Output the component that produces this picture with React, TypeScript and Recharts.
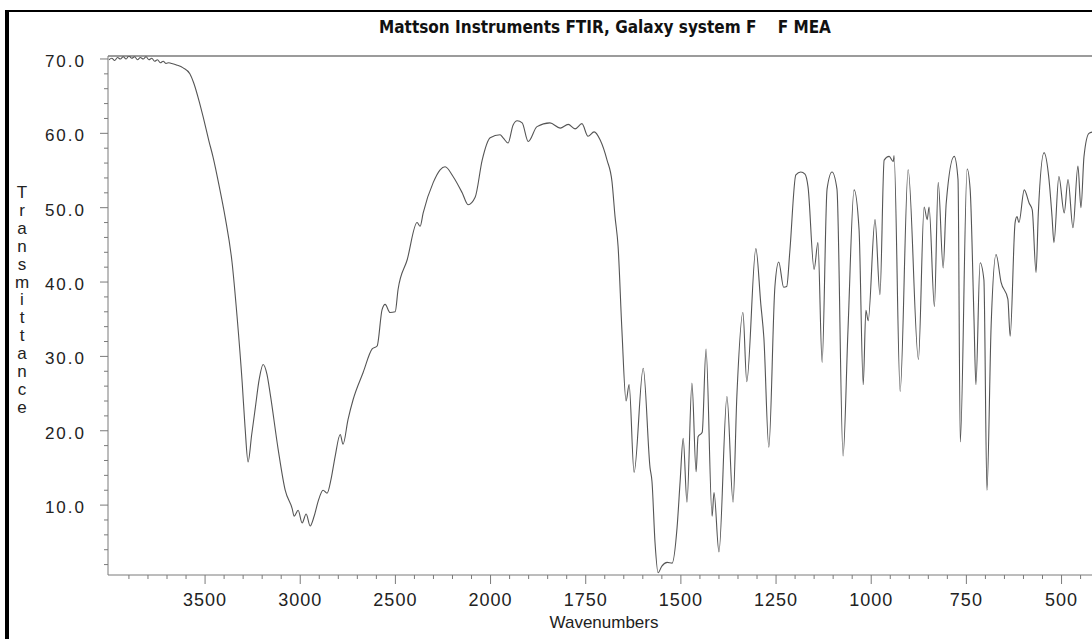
import React from 'react';
import { LineChart, Line, XAxis, YAxis, ReferenceLine } from 'recharts';

// spectrum: wavenumber (cm-1) and % transmittance
const wavenumbers = [
  4005, 3990, 3975, 3960, 3945, 3930, 3915, 3900, 3885, 3870, 3855, 3840, 3825, 3810, 3795, 3780,
  3765, 3750, 3735, 3720, 3705, 3690, 3675, 3650, 3615, 3580, 3560, 3530, 3510, 3480, 3458, 3425,
  3395, 3358, 3332, 3305, 3290, 3274, 3255, 3237, 3215, 3195, 3175, 3158, 3116, 3079, 3042, 3032,
  3011, 2990, 2969, 2948, 2927, 2906, 2880, 2859, 2838, 2817, 2790, 2775, 2749, 2722, 2670, 2622,
  2596, 2570, 2554, 2528, 2501, 2486, 2438, 2386, 2370, 2354, 2301, 2265, 2239, 2197, 2149, 2118,
  2081, 2044, 2002, 1975, 1967, 1954, 1941, 1930, 1917, 1901, 1878, 1844, 1817, 1796, 1778, 1760,
  1744, 1728, 1712, 1694, 1681, 1673, 1665, 1655, 1644, 1636, 1623, 1599, 1581, 1576, 1568, 1560,
  1550, 1536, 1523, 1510, 1502, 1494, 1484, 1471, 1460, 1455, 1444, 1434, 1418, 1413, 1400, 1379,
  1363, 1353, 1337, 1327, 1303, 1290, 1282, 1269, 1253, 1243, 1230, 1222, 1214, 1198, 1185, 1174,
  1166, 1150, 1140, 1129, 1116, 1103, 1090, 1074, 1061, 1045, 1032, 1021, 1014, 1008, 990, 977,
  966, 953, 942, 940, 924, 903, 876, 861, 853, 848, 834, 824, 811, 803, 782, 772,
  766, 748, 740, 730, 725, 714, 704, 696, 685, 672, 659, 641, 635, 622, 617, 612,
  598, 585, 577, 567, 561, 546, 533, 525, 520, 507, 493, 483, 470, 457, 449, 441,
  428, 417,
];
const transmittance = [
  69.9, 70.1, 69.8, 70.2, 70.0, 70.3, 70.0, 70.4, 70.1, 70.3, 69.9, 70.2, 70.0, 70.3, 69.9, 70.1,
  69.7, 69.9, 69.5, 69.7, 69.4, 69.5, 69.4, 69.2, 68.8, 68.0, 66.8, 64.2, 62.2, 59.0, 56.8, 52.8,
  48.8, 42.6, 35.4, 26.5, 20.5, 15.8, 19.5, 22.9, 27.0, 28.9, 27.6, 25.0, 17.5, 12.0, 9.5, 8.5,
  9.3, 7.6, 8.8, 7.2, 8.5, 10.5, 12.0, 11.6, 13.5, 16.5, 19.5, 18.2, 21.5, 24.2, 27.8, 31.0,
  31.4, 36.3, 37.0, 35.9, 36.0, 39.0, 43.0, 48.0, 47.5, 49.3, 53.4, 55.1, 55.5, 54.2, 52.0, 50.4,
  51.4, 56.4, 59.4, 59.8, 59.4, 58.7, 61.1, 61.7, 61.4, 58.9, 60.9, 61.4, 60.7, 61.2, 60.6, 61.3,
  59.6, 60.2, 59.1, 56.4, 53.5, 48.8, 44.8, 33.6, 24.0, 26.2, 14.4, 28.4, 15.0, 13.2, 5.0, 0.9,
  1.8, 2.3, 2.2, 7.0, 13.2, 19.0, 10.4, 26.4, 14.5, 19.2, 19.8, 31.0, 8.5, 11.7, 3.7, 24.6,
  10.4, 24.6, 35.9, 26.6, 44.5, 37.0, 32.5, 17.8, 39.4, 42.7, 39.3, 39.4, 44.0, 54.4, 54.8, 54.5,
  52.8, 41.7, 45.3, 29.2, 52.5, 54.8, 52.5, 16.6, 33.6, 52.4, 47.1, 26.2, 36.2, 34.8, 48.4, 38.3,
  56.4, 56.9, 56.2, 57.0, 25.3, 55.1, 29.6, 50.1, 48.4, 50.1, 36.7, 53.4, 41.9, 50.6, 56.9, 53.8,
  18.5, 55.2, 52.4, 35.0, 26.2, 42.6, 40.3, 12.0, 34.1, 43.7, 40.0, 37.7, 32.7, 48.0, 48.8, 48.0,
  52.4, 50.6, 49.7, 41.3, 49.3, 57.4, 53.8, 48.8, 45.3, 54.2, 49.3, 53.8, 47.3, 55.6, 50.0, 56.9,
  60.0, 60.2,
];

const majorX = [3500, 3000, 2500, 2000, 1750, 1500, 1250, 1000, 750, 500];
const minorX = [
  3900, 3800, 3700, 3600, 3400, 3300, 3200, 3100, 2900, 2800, 2700, 2600, 2400, 2300, 2200, 2100,
  1950, 1900, 1850, 1800, 1700, 1650, 1600, 1550, 1450, 1400, 1350, 1300, 1200, 1150, 1100, 1050,
  950, 900, 850, 800, 700, 650, 600, 550, 450,
];
const majorY = [10, 20, 30, 40, 50, 60, 70];
const minorY = [
  2, 4, 6, 8, 12, 14, 16, 18, 22, 24, 26, 28, 32, 34, 36, 38, 42, 44, 46, 48, 52, 54, 56, 58,
  62, 64, 66, 68,
];

// the instrument doubles the scale below 2000 cm-1
const toU = (w: number) => (w >= 2000 ? 4000 - w : 2000 + (2000 - w) * 2);
const fromU = (u: number) => Math.round(u <= 2000 ? 4000 - u : 2000 - (u - 2000) / 2);

const data = wavenumbers.map((w, i) => ({ u: toU(w), t: transmittance[i] }));

const AXIS = '#7a7a7a';
const FONT = '"Liberation Sans", Arial, sans-serif';

const XTick = (props: any) => {
  const { x, y, payload } = props;
  const w = fromU(payload.value);
  const major = majorX.includes(w);
  return (
    <g>
      <line x1={x} x2={x} y1={y} y2={y + (major ? 9 : 4)} stroke={AXIS} />
      {major && (
        <text x={x} y={y + 31} textAnchor="middle" fontSize={18} fontFamily={FONT} fill="#222" letterSpacing={1}>
          {w}
        </text>
      )}
    </g>
  );
};

const YTick = (props: any) => {
  const { x, y, payload } = props;
  const major = majorY.includes(payload.value);
  return (
    <g>
      <line x1={x - (major ? 8 : 4)} x2={x} y1={y} y2={y} stroke={AXIS} />
      {major && (
        <text x={x - 22} y={y + 8} textAnchor="end" fontSize={17} fontFamily={FONT} fill="#222" letterSpacing={2}>
          {payload.value.toFixed(1)}
        </text>
      )}
    </g>
  );
};

const App = () => {
  const xTicks = [...majorX, ...minorX].map(toU).sort((a, b) => a - b);
  const yTicks = [...minorY, ...majorY].sort((a, b) => a - b);
  return (
    <div style={{ position: 'absolute', left: 0, top: 0, width: 1092, height: 639, overflow: 'hidden', background: '#fff' }}>
      <div style={{ position: 'absolute', left: 5, top: 10, width: 1092, height: 639, borderLeft: '4px solid #000', borderTop: '2px solid #000' }} />
      <div
        style={{
          position: 'absolute', left: 605, top: 17, transform: 'translateX(-50%)', whiteSpace: 'pre',
          fontFamily: '"Liberation Sans Narrow", "DejaVu Sans Condensed", sans-serif', fontWeight: 700, fontSize: 17, color: '#111',
        }}
      >
        {'Mattson Instruments FTIR, Galaxy system F    F MEA'}
      </div>
      <div
        style={{
          position: 'absolute', left: 12, top: 184, width: 20, textAlign: 'center',
          fontFamily: FONT, fontSize: 17, lineHeight: '17.9px', color: '#222',
        }}
      >
        {'Transmittance'.split('').map((c, i) => (
          <div key={i}>{c}</div>
        ))}
      </div>
      <div style={{ position: 'absolute', left: 604, top: 613, transform: 'translateX(-50%)', fontFamily: FONT, fontSize: 17, color: '#222' }}>
        Wavenumbers
      </div>
      <LineChart width={1092} height={639} data={data} margin={{ top: 56, right: 0, bottom: 0, left: 0 }}>
        <XAxis
          dataKey="u"
          type="number"
          domain={[-10, 5160]}
          allowDataOverflow
          ticks={xTicks}
          interval={0}
          tick={<XTick />}
          tickLine={false}
          tickSize={0}
          tickMargin={0}
          height={64}
          axisLine={{ stroke: AXIS }}
        />
        <YAxis
          type="number"
          domain={[0.6, 70.4]}
          allowDataOverflow
          ticks={yTicks}
          interval={0}
          tick={<YTick />}
          tickLine={false}
          tickSize={0}
          tickMargin={0}
          width={108}
          axisLine={{ stroke: AXIS }}
        />
        <ReferenceLine y={70.4} stroke={AXIS} strokeWidth={1.5} />
        <Line type="monotone" dataKey="t" stroke="#555" strokeWidth={1.1} dot={false} isAnimationActive={false} />
      </LineChart>
    </div>
  );
};

export default App;
